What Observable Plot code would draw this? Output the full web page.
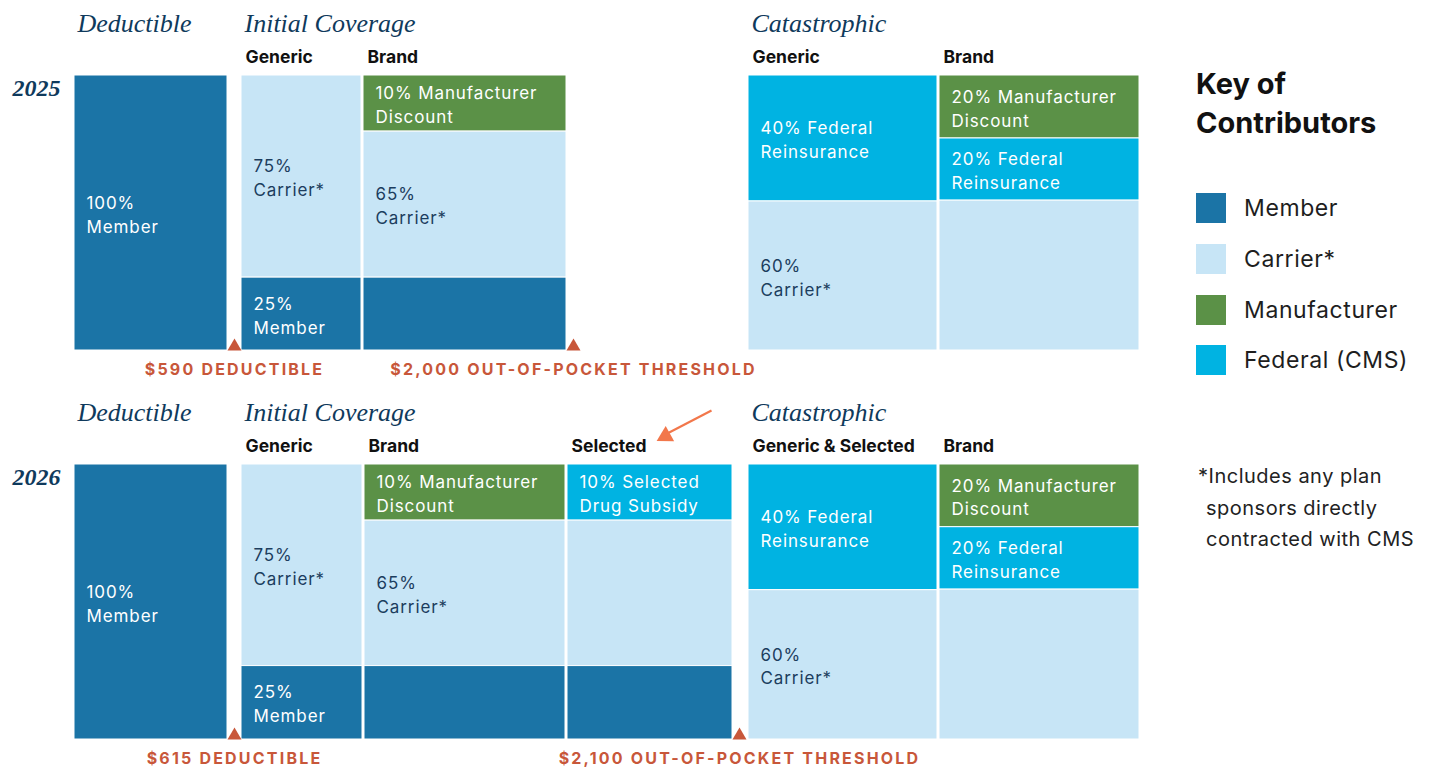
<!DOCTYPE html>
<html>
<head>
<meta charset="utf-8">
<script src="https://cdn.jsdelivr.net/npm/d3@7"></script>
<script src="https://cdn.jsdelivr.net/npm/@observablehq/plot@0.6"></script>
<style>
  html, body { margin: 0; padding: 0; background: #fff; }
  body { font-family: Inter, "Noto Sans", sans-serif; }
  #wrap { display: flex; width: 1430px; height: 767px; overflow: hidden; }
  #chart { width: 1160px; flex: none; }
  #legend { padding-left: 36px; flex: none; width: 234px; color: #1e1e1e; }
  .key-title { margin-top: 64px; font-size: 29px; font-weight: 700; line-height: 39px; color: #111; }
  .key-items { margin-top: 51px; }
  .key-item { display: flex; align-items: center; height: 30px; margin-bottom: 20.8px; font-size: 23px; letter-spacing: 0.6px; }
  .key-swatch { width: 30px; height: 30px; margin-right: 18px; flex: none; }
  .note { margin-top: 86px; margin-left: 10px; text-indent: -8px; font-size: 20px; letter-spacing: 0.5px; line-height: 31.5px; white-space: nowrap; color: #222; }
  svg g[font-size="17"] text { letter-spacing: 0.9px; }
  svg g[font-size="16"] text { letter-spacing: 2.2px; }
</style>
</head>
<body>
<div id="wrap">
  <div id="chart"></div>
  <div id="legend"></div>
</div>
<script>
// ---------------- data ----------------
const years = ["2025", "2026"];
const contributors = ["Member", "Carrier*", "Manufacturer", "Federal (CMS)"];
const contributorColors = ["#1b74a6", "#c7e5f6", "#5b9147", "#00b3e2"];
const legendTitle = ["Key of", "Contributors"];
const footnote = ["*Includes any plan", "sponsors directly", "contracted with CMS"];

// columns of each year's benefit design
const columns2025 = [
  { id: "ded",      phase: "Deductible",       tier: "" },
  { id: "icGen",    phase: "Initial Coverage", tier: "Generic" },
  { id: "icBrand",  phase: "Initial Coverage", tier: "Brand" },
  { id: "catGen",   phase: "Catastrophic",     tier: "Generic" },
  { id: "catBrand", phase: "Catastrophic",     tier: "Brand" }
];
const columns2026 = [
  { id: "ded",      phase: "Deductible",       tier: "" },
  { id: "icGen",    phase: "Initial Coverage", tier: "Generic" },
  { id: "icBrand",  phase: "Initial Coverage", tier: "Brand" },
  { id: "icSel",    phase: "Initial Coverage", tier: "Selected" },
  { id: "catGen",   phase: "Catastrophic",     tier: "Generic & Selected" },
  { id: "catBrand", phase: "Catastrophic",     tier: "Brand" }
];

// segments: contributor, label, drawn share of the column (%)
const segments2025 = [
  { col: "ded",      who: "Member",        label: "100%\nMember",                share: 100 },
  { col: "icGen",    who: "Carrier*",      label: "75%\nCarrier*",               share: 73.5 },
  { col: "icGen",    who: "Member",        label: "25%\nMember",                 share: 26.5 },
  { col: "icBrand",  who: "Manufacturer",  label: "10% Manufacturer\nDiscount",  share: 20.4 },
  { col: "icBrand",  who: "Carrier*",      label: "65%\nCarrier*",               share: 53.1 },
  { col: "icBrand",  who: "Member",        label: "",                            share: 26.5 },
  { col: "catGen",   who: "Federal (CMS)", label: "40% Federal\nReinsurance",    share: 45.8 },
  { col: "catGen",   who: "Carrier*",      label: "60%\nCarrier*",               share: 54.2 },
  { col: "catBrand", who: "Manufacturer",  label: "20% Manufacturer\nDiscount",  share: 22.9 },
  { col: "catBrand", who: "Federal (CMS)", label: "20% Federal\nReinsurance",    share: 22.6 },
  { col: "catBrand", who: "Carrier*",      label: "",                            share: 54.5 }
];
const segments2026 = [
  { col: "ded",      who: "Member",        label: "100%\nMember",                share: 100 },
  { col: "icGen",    who: "Carrier*",      label: "75%\nCarrier*",               share: 73.3 },
  { col: "icGen",    who: "Member",        label: "25%\nMember",                 share: 26.7 },
  { col: "icBrand",  who: "Manufacturer",  label: "10% Manufacturer\nDiscount",  share: 20.4 },
  { col: "icBrand",  who: "Carrier*",      label: "65%\nCarrier*",               share: 52.9 },
  { col: "icBrand",  who: "Member",        label: "",                            share: 26.7 },
  { col: "icSel",    who: "Federal (CMS)", label: "10% Selected\nDrug Subsidy",  share: 20.4 },
  { col: "icSel",    who: "Carrier*",      label: "",                            share: 52.9 },
  { col: "icSel",    who: "Member",        label: "",                            share: 26.7 },
  { col: "catGen",   who: "Federal (CMS)", label: "40% Federal\nReinsurance",    share: 45.7 },
  { col: "catGen",   who: "Carrier*",      label: "60%\nCarrier*",               share: 54.3 },
  { col: "catBrand", who: "Manufacturer",  label: "20% Manufacturer\nDiscount",  share: 22.8 },
  { col: "catBrand", who: "Federal (CMS)", label: "20% Federal\nReinsurance",    share: 22.7 },
  { col: "catBrand", who: "Carrier*",      label: "",                            share: 54.5 }
];

// thresholds, drawn after a given column
const thresholds = [
  { year: "2025", after: "ded",     label: "$590 DEDUCTIBLE" },
  { year: "2025", after: "icBrand", label: "$2,000 OUT-OF-POCKET THRESHOLD" },
  { year: "2026", after: "ded",     label: "$615 DEDUCTIBLE" },
  { year: "2026", after: "icSel",   label: "$2,100 OUT-OF-POCKET THRESHOLD" }
];

// ---------------- layout (chart units along the spend axis) ----------------
const columnSpan = {
  "2025": { ded: [0, 153], icGen: [167, 287], icBrand: [289, 492], catGen: [674, 863], catBrand: [865, 1065] },
  "2026": { ded: [0, 153], icGen: [167, 288], icBrand: [290, 491], icSel: [493, 658], catGen: [674, 863], catBrand: [865, 1065] }
};
const thresholdGap = 7;
// pointer to the "Selected" tier (tail -> tip, chart units)
const arrowNote = [{ year: "2026", x1: 637, y1: -19.6, x2: 587, y2: -10.2, tipX: 583, tipY: -8.7 }];

// ---------------- derived tables ----------------
const colsByYear = { "2025": columns2025, "2026": columns2026 };
const segsByYear = { "2025": segments2025, "2026": segments2026 };

const rects = [];
for (const year of years) {
  for (const c of colsByYear[year]) {
    const segs = segsByYear[year].filter(s => s.col === c.id);
    const ends = d3.cumsum(segs, s => s.share);
    segs.forEach((s, i) => {
      rects.push({
        year, who: s.who, label: s.label,
        x1: columnSpan[year][c.id][0], x2: columnSpan[year][c.id][1],
        y1: ends[i] - s.share, y2: ends[i]
      });
    });
  }
}
const tiers = [];
const phaseHeads = [];
for (const year of years) {
  const seen = new Set();
  for (const c of colsByYear[year]) {
    const x = columnSpan[year][c.id][0];
    if (c.tier) tiers.push({ year, x, text: c.tier });
    if (!seen.has(c.phase)) { seen.add(c.phase); phaseHeads.push({ year, x, text: c.phase }); }
  }
}
const thr = thresholds.map(t => ({ ...t, x: columnSpan[t.year][t.after][1] + thresholdGap }));

const SANS = "Inter, 'Noto Sans', sans-serif";
const SERIF = "'Liberation Serif', 'DejaVu Serif', serif";
const NAVY = "#0f3a5c";
const LABEL_NAVY = "#1c3d5e";
const ORANGE = "#c8573a";
const ARROW = "#f2774b";

const chart = Plot.plot({
  width: 1160,
  height: 767,
  marginLeft: 74,
  marginRight: 21,
  marginTop: 75,
  marginBottom: 27,
  x: { domain: [0, 1065], axis: null },
  y: { domain: [0, 100], reverse: true, axis: null },
  fy: { domain: years, axis: null, paddingInner: 0.2923, paddingOuter: 0 },
  color: { domain: contributors, range: contributorColors },
  style: { fontFamily: SANS, background: "white", overflow: "visible" },
  marks: [
    Plot.rect(rects, { fy: "year", x1: "x1", x2: "x2", y1: "y1", y2: "y2", fill: "who", stroke: "white", strokeWidth: 1 }),
    Plot.text(rects.filter(d => d.label && d.who !== "Carrier*"), {
      fy: "year", x: "x1", y: d => (d.y1 + d.y2) / 2, text: "label",
      dx: 12, textAnchor: "start", lineAnchor: "middle", lineHeight: 1.41,
      fontSize: 17, fill: "white"
    }),
    Plot.text(rects.filter(d => d.label && d.who === "Carrier*"), {
      fy: "year", x: "x1", y: d => (d.y1 + d.y2) / 2, text: "label",
      dx: 12, textAnchor: "start", lineAnchor: "middle", lineHeight: 1.41,
      fontSize: 17, fill: LABEL_NAVY
    }),
    Plot.text(phaseHeads, {
      fy: "year", x: "x", text: "text", frameAnchor: "top", dx: 3, dy: -52,
      textAnchor: "start", lineAnchor: "middle", fontFamily: SERIF, fontStyle: "italic",
      fontSize: 26, fill: NAVY
    }),
    Plot.text(tiers, {
      fy: "year", x: "x", text: "text", frameAnchor: "top", dx: 4, dy: -18,
      textAnchor: "start", lineAnchor: "middle", fontWeight: 700, fontSize: 17.5, fill: "#111"
    }),
    Plot.text(years, {
      fy: d => d, text: d => d, frameAnchor: "top-left", dx: -62, dy: 13,
      textAnchor: "start", lineAnchor: "middle", fontFamily: SERIF, fontStyle: "italic",
      fontWeight: 700, fontSize: 24, fill: NAVY
    }),
    Plot.dot(thr, {
      fy: "year", x: "x", frameAnchor: "bottom", dy: -4, symbol: "triangle", r: 5.2,
      fill: ORANGE, stroke: "none"
    }),
    Plot.text(thr, {
      fy: "year", x: "x", text: "label", frameAnchor: "bottom", dy: 19.5,
      textAnchor: "middle", lineAnchor: "middle", fontWeight: 700, fontSize: 16,
      fill: ORANGE
    }),
    Plot.link(arrowNote, {
      fy: "year", x1: "x1", y1: "y1", x2: "x2", y2: "y2",
      stroke: ARROW, strokeWidth: 2.2
    }),
    Plot.dot(arrowNote, {
      fy: "year", x: "tipX", y: "tipY", dx: 8, dy: -4.5, symbol: "triangle", r: 6.5,
      rotate: 241, fill: ARROW, stroke: "none"
    })
  ]
});
document.getElementById("chart").appendChild(chart);

// ---------------- legend ----------------
const legend = d3.select("#legend");
legend.append("div").attr("class", "key-title").html(legendTitle.join("<br>"));
const items = legend.append("div").attr("class", "key-items");
contributors.forEach((c, i) => {
  const row = items.append("div").attr("class", "key-item");
  row.append("span").attr("class", "key-swatch").style("background", contributorColors[i]);
  row.append("span").text(c);
});
legend.append("div").attr("class", "note").html(footnote.join("<br>"));
</script>
</body>
</html>
